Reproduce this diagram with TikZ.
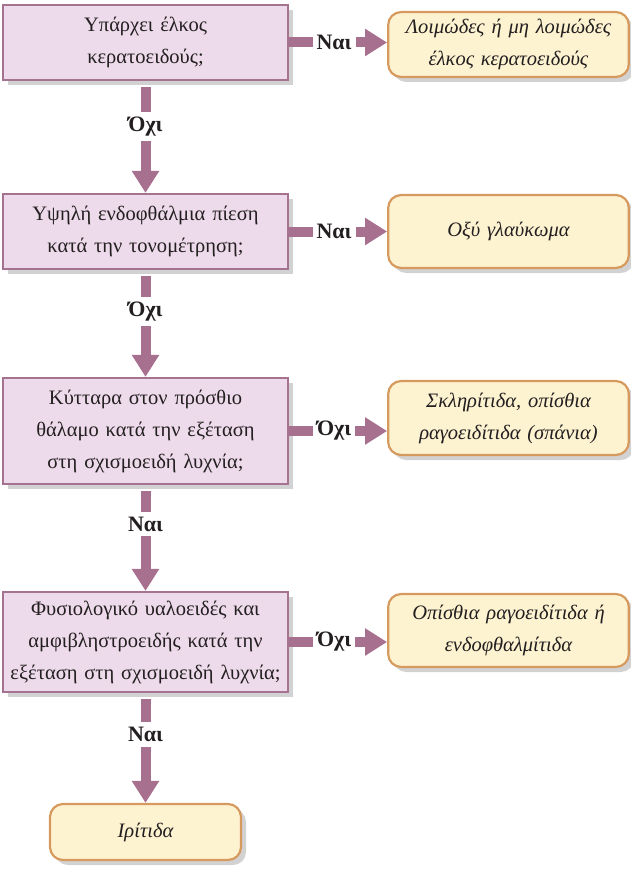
\documentclass[tikz,border=0pt]{standalone}
\usepackage{fontspec}
\setmainfont{Liberation Serif}
\usetikzlibrary{arrows.meta,shadows}
\definecolor{qfill}{HTML}{EDDAEA}
\definecolor{qline}{HTML}{A5728F}
\definecolor{arrc}{HTML}{A8708F}
\definecolor{afill}{HTML}{FDF3D1}
\definecolor{aline}{HTML}{D79A5E}
\definecolor{shad}{HTML}{D2D2D2}
\definecolor{txt}{HTML}{231F20}
\tikzset{
  shd/.style={drop shadow={shadow xshift=5pt,shadow yshift=-5pt,fill=shad,opacity=1}},
  qbox/.style={draw=qline,fill=qfill,line width=2.2pt,minimum width=281pt,text width=278pt,align=center,shd,text=txt,font=\fontsize{20.5}{32}\selectfont},
  abox/.style={draw=aline,fill=afill,line width=2.2pt,rounded corners=13pt,minimum width=237pt,text width=234pt,align=center,shd,text=txt,font=\itshape\fontsize{20.5}{32}\selectfont},
  conn/.style={draw=arrc,line width=10pt,-{Triangle[length=22pt,width=26pt]}},
  lab/.style={fill=white,inner xsep=4pt,inner ysep=5pt,text=txt,font=\bfseries\fontsize{22}{24}\selectfont}
}
\begin{document}
\begin{tikzpicture}[x=1pt,y=-1pt]
\useasboundingbox (0,0) rectangle (630,869);
\node[qbox,minimum height=75pt] (q1) at (145.5,42.5) {Υπάρχει έλκος\\κερατοειδούς;};
\node[qbox,minimum height=75pt] (q2) at (145.5,231.5) {Υψηλή ενδοφθάλμια πίεση\\κατά την τονομέτρηση;};
\node[qbox,minimum height=106pt] (q3) at (145.5,431) {Κύτταρα στον πρόσθιο\\θάλαμο κατά την εξέταση\\στη σχισμοειδή λυχνία;};
\node[qbox,minimum height=100pt] (q4) at (145.5,642) {Φυσιολογικό υαλοειδές και\\αμφιβληστροειδής κατά την\\εξέταση στη σχισμοειδή λυχνία;};
\node[abox,minimum height=65pt] (a1) at (508.5,44.5) {Λοιμώδες ή μη λοιμώδες\\έλκος κερατοειδούς};
\node[abox,minimum height=73pt] (a2) at (508.5,231.5) {Οξύ γλαύκωμα};
\node[abox,minimum height=74pt] (a3) at (508.5,418) {Σκληρίτιδα, οπίσθια\\ραγοειδίτιδα (σπάνια)};
\node[abox,minimum height=73pt] (a4) at (508.5,630.5) {Οπίσθια ραγοειδίτιδα ή\\ενδοφθαλμίτιδα};
\node[abox,minimum height=56pt,minimum width=191pt,text width=180pt] (a5) at (145.5,832) {Ιρίτιδα};
\draw[conn] (q1.east) -- (q1.east -| a1.west) node[lab,pos=0.46] {Ναι};
\draw[conn] (q2.east) -- (q2.east -| a2.west) node[lab,pos=0.46] {Ναι};
\draw[conn] (q3.east) -- (q3.east -| a3.west) node[lab,pos=0.46] {Όχι};
\draw[conn] (q4.east) -- (q4.east -| a4.west) node[lab,pos=0.46] {Όχι};
\draw[conn] ([yshift=-6pt]q1.south) -- (q2.north) node[lab,pos=0.37] {Όχι};
\draw[conn] ([yshift=-6pt]q2.south) -- (q3.north) node[lab,pos=0.35] {Όχι};
\draw[conn] ([yshift=-6pt]q3.south) -- (q4.north) node[lab,pos=0.33] {Ναι};
\draw[conn] ([yshift=-6pt]q4.south) -- (a5.north) node[lab,pos=0.34] {Ναι};
\end{tikzpicture}
\end{document}
